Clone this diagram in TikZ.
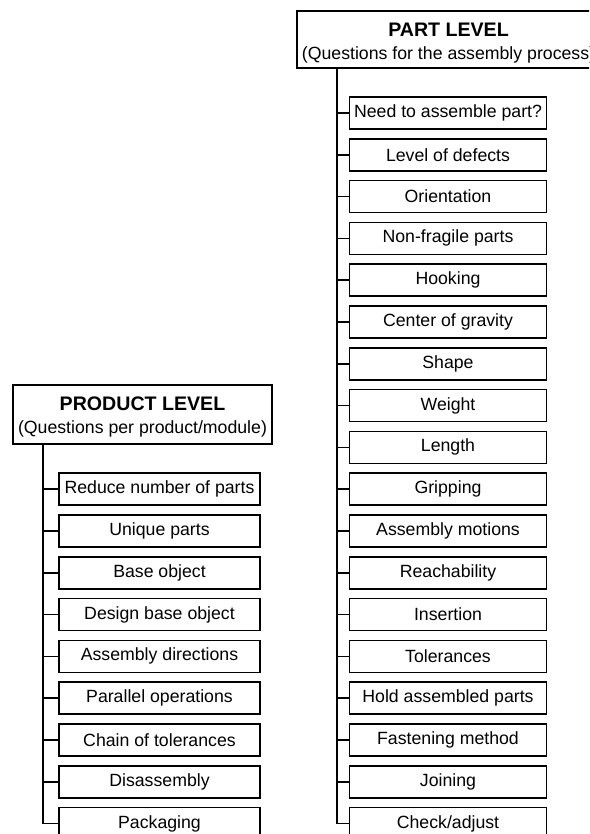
\documentclass[tikz,border=0pt]{standalone}
\usepackage{fontspec}
\setmainfont{Liberation Sans}
\newcommand{\lowered}[2]{\raisebox{-#1}[\height][\depth]{#2}}
\begin{document}
\begin{tikzpicture}[x=1pt,y=-1pt,
  line width=1.7pt,
  head/.style={draw,inner sep=0pt,align=center,font=\fontsize{17.7}{23}\selectfont},
  qbox/.style={draw,inner sep=0pt,minimum height=32pt,font=\fontsize{17.7}{21}\selectfont},
  pbox/.style={qbox,minimum width=197pt},
  mbox/.style={qbox,minimum width=201pt}]
\clip (0,0) rectangle (589,834);

% part level (right column)
\node[head,minimum width=303pt,minimum height=57pt] (phead) at (448.5,39.5)
  {\lowered{3.5pt}{\fontsize{19.6}{23}\selectfont\bfseries PART LEVEL}\\
   \lowered{3.5pt}{(Questions for the assembly process)}};
\coordinate (ptrunk) at (336.7,68);

\node[pbox] (p1) at (448,113.0) {Need to assemble part?};
\node[pbox] (p2) at (448,154.8) {Level of defects};
\node[pbox] (p3) at (448,196.6) {Orientation};
\node[pbox] (p4) at (448,238.4) {Non-fragile parts};
\node[pbox] (p5) at (448,280.2) {Hooking};
\node[pbox] (p6) at (448,322.0) {Center of gravity};
\node[pbox] (p7) at (448,363.8) {Shape};
\node[pbox] (p8) at (448,405.6) {Weight};
\node[pbox] (p9) at (448,447.4) {Length};
\node[pbox] (p10) at (448,489.2) {Gripping};
\node[pbox] (p11) at (448,531.0) {Assembly motions};
\node[pbox] (p12) at (448,572.8) {Reachability};
\node[pbox] (p13) at (448,614.6) {Insertion};
\node[pbox] (p14) at (448,656.4) {Tolerances};
\node[pbox] (p15) at (448,698.2) {Hold assembled parts};
\node[pbox] (p16) at (448,740.0) {Fastening method};
\node[pbox] (p17) at (448,781.8) {Joining};
\node[pbox] (p18) at (448,823.6) {Check/adjust};

\draw (ptrunk) |- (p1.west);
\draw (ptrunk) |- (p2.west);
\draw (ptrunk) |- (p3.west);
\draw (ptrunk) |- (p4.west);
\draw (ptrunk) |- (p5.west);
\draw (ptrunk) |- (p6.west);
\draw (ptrunk) |- (p7.west);
\draw (ptrunk) |- (p8.west);
\draw (ptrunk) |- (p9.west);
\draw (ptrunk) |- (p10.west);
\draw (ptrunk) |- (p11.west);
\draw (ptrunk) |- (p12.west);
\draw (ptrunk) |- (p13.west);
\draw (ptrunk) |- (p14.west);
\draw (ptrunk) |- (p15.west);
\draw (ptrunk) |- (p16.west);
\draw (ptrunk) |- (p17.west);
\draw (ptrunk) |- (p18.west);

% product level (left column)
\node[head,minimum width=259pt,minimum height=59pt] (mhead) at (142.5,414.5)
  {\lowered{2pt}{\fontsize{19.6}{23}\selectfont\bfseries PRODUCT LEVEL}\\
   \lowered{2pt}{(Questions per product/module)}};
\coordinate (mtrunk) at (43.3,444);

\node[mbox] (m1) at (159.5,489.2) {Reduce number of parts};
\node[mbox] (m2) at (159.5,531.0) {Unique parts};
\node[mbox] (m3) at (159.5,572.8) {Base object};
\node[mbox] (m4) at (159.5,614.6) {Design base object};
\node[mbox] (m5) at (159.5,656.4) {Assembly directions};
\node[mbox] (m6) at (159.5,698.2) {Parallel operations};
\node[mbox] (m7) at (159.5,740.0) {Chain of tolerances};
\node[mbox] (m8) at (159.5,781.8) {Disassembly};
\node[mbox] (m9) at (159.5,823.6) {Packaging};

\draw (mtrunk) |- (m1.west);
\draw (mtrunk) |- (m2.west);
\draw (mtrunk) |- (m3.west);
\draw (mtrunk) |- (m4.west);
\draw (mtrunk) |- (m5.west);
\draw (mtrunk) |- (m6.west);
\draw (mtrunk) |- (m7.west);
\draw (mtrunk) |- (m8.west);
\draw (mtrunk) |- (m9.west);
\end{tikzpicture}
\end{document}
